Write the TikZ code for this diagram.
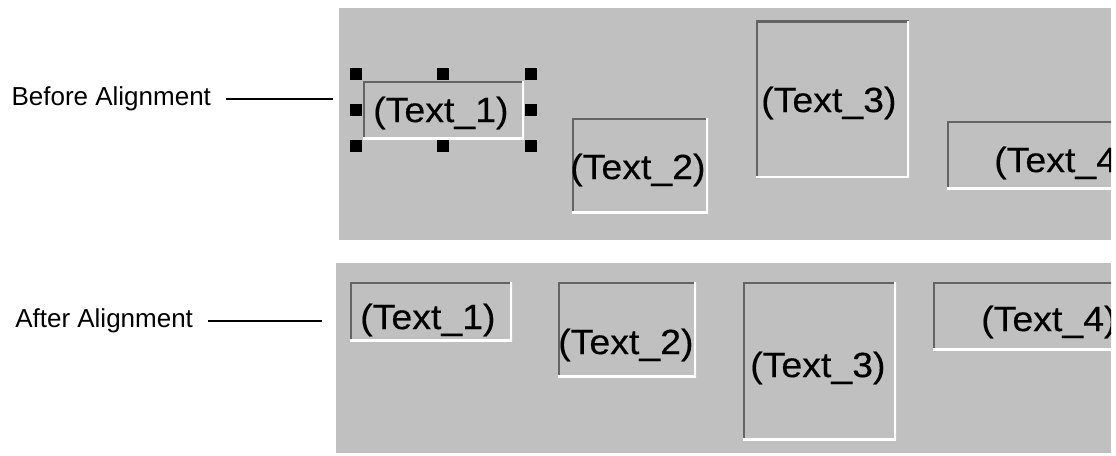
\documentclass[tikz,border=0pt]{standalone}
\usepackage{fontspec}
\setmainfont{Liberation Sans}
\newfontfamily\fieldfont[FakeStretch=1.07, FakeBold=0.4]{Liberation Sans}
\usetikzlibrary{positioning}
\definecolor{panelgray}{RGB}{192,192,192}
\definecolor{shadow}{RGB}{100,100,100}

\begin{document}
\begin{tikzpicture}[
    x=1pt, y=-1pt,
    caption/.style={font=\fontsize{26}{30}\selectfont, inner sep=0pt, outer xsep=15pt},
    lead/.style={line width=2.8pt, black},
    field/.style={rectangle, inner sep=0pt, path picture={
        \draw[shadow, line width=4pt] (path picture bounding box.south west) |- (path picture bounding box.north east);
        \draw[white, line width=4pt] (path picture bounding box.south west) -| (path picture bounding box.north east);}},
    fieldtext/.style={font=\fieldfont\fontsize{35}{40}\selectfont, inner sep=0pt, anchor=west},
    grip/.style={rectangle, fill=black, minimum size=12pt, inner sep=0pt},
]
\useasboundingbox (0,0) rectangle (1116,455);

% Panels
\fill[panelgray] (339,8) rectangle (1111,240);
\fill[panelgray] (336,263) rectangle (1111,453);

% Before alignment
\begin{scope}
\clip (339,8) rectangle (1111,240);
\node[field, minimum width=161pt, minimum height=58pt] (before1) at (443.5,110) {};
\node[field, minimum width=136pt, minimum height=95pt] (before2) at (640,165.5) {};
\node[field, minimum width=153pt, minimum height=157pt] (before3) at (832.5,99) {};
\node[field, minimum width=240pt, minimum height=68pt] (before4) at (1067,155) {};
\node[fieldtext] (beforetext1) at (373,113) {(Text\_1)};
\node[fieldtext] (beforetext2) at (570,170) {(Text\_2)};
\node[fieldtext] (beforetext3) at (761,103) {(Text\_3)};
\node[fieldtext] (beforetext4) at (994,163) {(Text\_4)};
\foreach \gx/\gy in {356/74, 443/74, 531/74, 356/110, 531/110, 356/146, 443/146, 531/146}
    \node[grip] (grip-\gx-\gy) at (\gx,\gy) {};
\end{scope}

% After alignment
\begin{scope}
\clip (336,263) rectangle (1111,453);
\node[field, minimum width=162pt, minimum height=59pt] (after1) at (431,311.5) {};
\node[field, minimum width=138pt, minimum height=95pt] (after2) at (627,329.5) {};
\node[field, minimum width=153pt, minimum height=158pt] (after3) at (819.5,361) {};
\node[field, minimum width=240pt, minimum height=68pt] (after4) at (1053,316) {};
\node[fieldtext] (aftertext1) at (360,320) {(Text\_1)};
\node[fieldtext] (aftertext2) at (558,345) {(Text\_2)};
\node[fieldtext] (aftertext3) at (750,368) {(Text\_3)};
\node[fieldtext] (aftertext4) at (981,322) {(Text\_4)};
\end{scope}

% Captions
\coordinate (beforeend) at (333,99);
\coordinate (afterend) at (322,321);
\node[caption, left=107pt of beforeend] (beforecap) {Before Alignment};
\node[caption, left=114pt of afterend] (aftercap) {After Alignment};
\draw[lead] (beforecap) -- (beforeend);
\draw[lead] (aftercap) -- (afterend);

\end{tikzpicture}
\end{document}
